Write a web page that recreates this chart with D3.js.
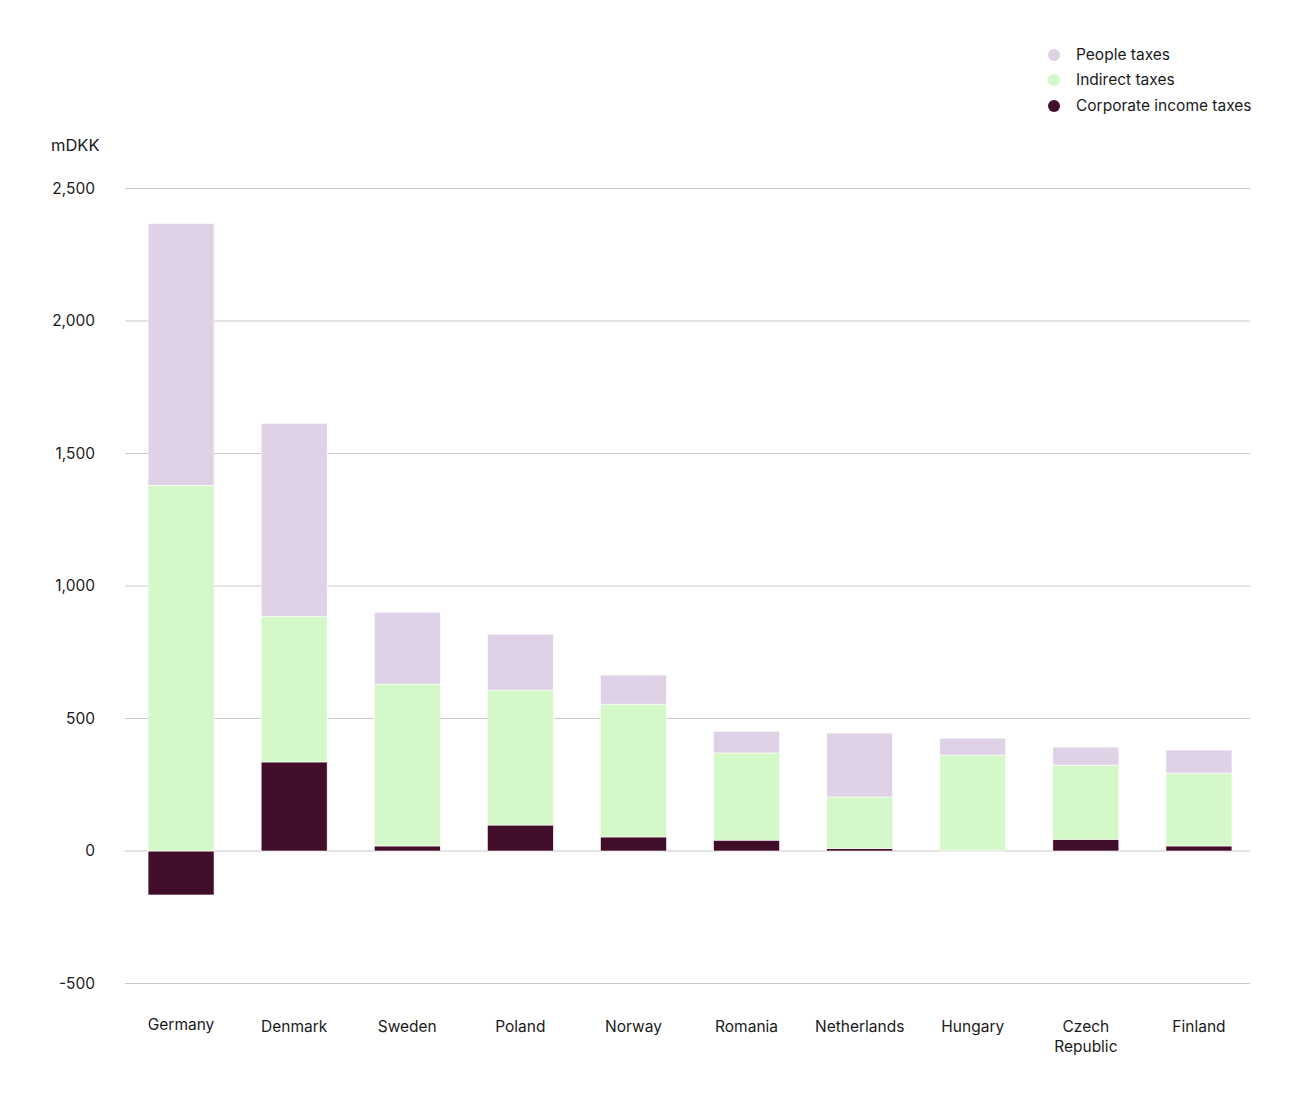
<!DOCTYPE html>
<html>
<head>
<meta charset="utf-8">
<script src="https://cdn.jsdelivr.net/npm/d3@7"></script>
<style>
  body { margin: 0; background: #fff; }
  svg text { font-family: Inter, "Noto Sans", sans-serif; fill: #1a1a1a; }
</style>
</head>
<body>
<svg id="chart" width="1301" height="1101"></svg>
<script>
var countries = ["Germany", "Denmark", "Sweden", "Poland", "Norway", "Romania", "Netherlands", "Hungary", "Czech Republic", "Finland"];
var corporate = [-166, 336, 19, 98, 53, 41, 9, 3, 44, 19];
var indirect = [1380, 550, 611, 509, 501, 329, 195, 359, 280, 275];
var people = [988, 728, 271, 211, 110, 82, 241, 64, 68, 87];
var yTicks = [-500, 0, 500, 1000, 1500, 2000, 2500];

var seriesNames = ["People taxes", "Indirect taxes", "Corporate income taxes"];
var colors = { "People taxes": "#e0d2e6", "Indirect taxes": "#d4f8c8", "Corporate income taxes": "#420d2b" };

var svg = d3.select("#chart"),
    margin = { top: 188.5, right: 51, bottom: 117.5, left: 125 },
    width = +svg.attr("width") - margin.left - margin.right,
    height = +svg.attr("height") - margin.top - margin.bottom;

var x = d3.scaleBand().domain(countries).range([124.5, 1255.5]).paddingInner(0.4164).paddingOuter(0.2082);
var y = d3.scaleLinear().domain([-500, 2500]).range([margin.top + height, margin.top]);

// gridlines
svg.append("g")
  .selectAll("line")
  .data(yTicks)
  .join("line")
    .attr("x1", margin.left)
    .attr("x2", margin.left + width)
    .attr("y1", function(d) { return y(d); })
    .attr("y2", function(d) { return y(d); })
    .attr("stroke", "#c8c8c8")
    .attr("stroke-width", 1);

// y tick labels
svg.append("g")
  .selectAll("text")
  .data(yTicks)
  .join("text")
    .attr("x", 95)
    .attr("y", function(d) { return y(d) + 1; })
    .attr("text-anchor", "end")
    .attr("dominant-baseline", "middle")
    .style("font-size", "15.5px")
    .text(function(d) { return d3.format(",")(d).replace("\u2212", "-"); });

svg.append("text")
  .attr("x", 51)
  .attr("y", 146)
  .attr("dominant-baseline", "middle")
  .style("font-size", "16.5px")
  .text("mDKK");

// stacked bars: corporate from 0, indirect above max(corp,0), people on top
var rows = countries.map(function(c, i) {
  var base = Math.max(corporate[i], 0);
  return [
    { key: "Corporate income taxes", c: c, y0: 0, y1: corporate[i] },
    { key: "Indirect taxes", c: c, y0: base, y1: base + indirect[i] },
    { key: "People taxes", c: c, y0: base + indirect[i], y1: base + indirect[i] + people[i] }
  ];
});

svg.append("g")
  .selectAll("g")
  .data(rows)
  .join("g")
  .selectAll("rect")
  .data(function(d) { return d; })
  .join("rect")
    .attr("x", function(d) { return x(d.c); })
    .attr("width", x.bandwidth())
    .attr("y", function(d) { return y(Math.max(d.y0, d.y1)); })
    .attr("height", function(d) { return Math.abs(y(d.y0) - y(d.y1)); })
    .attr("fill", function(d) { return colors[d.key]; })
    .attr("stroke", "#ffffff")
    .attr("stroke-width", 0.6);

// x labels
var xl = svg.append("g")
  .selectAll("text")
  .data(countries)
  .join("text")
    .attr("x", function(d) { return x(d) + x.bandwidth() / 2; })
    .attr("y", function(d) { return d === "Germany" ? 1026 : 1028; })
    .attr("text-anchor", "middle")
    .attr("dominant-baseline", "middle")
    .style("font-size", "15.5px");

xl.each(function(d) {
  var words = d.split(" ");
  var t = d3.select(this);
  words.forEach(function(w, i) {
    t.append("tspan")
      .attr("x", x(d) + x.bandwidth() / 2)
      .attr("dy", i === 0 ? 0 : 20)
      .text(w);
  });
});

// legend
var legend = svg.append("g")
  .selectAll("g")
  .data(seriesNames)
  .join("g")
    .attr("transform", function(d, i) { return "translate(1054," + [55, 80, 106][i] + ")"; });

legend.append("circle")
  .attr("r", 6)
  .attr("fill", function(d) { return colors[d]; });

legend.append("text")
  .attr("x", 22)
  .attr("y", 1)
  .attr("dominant-baseline", "middle")
  .style("font-size", "15.5px")
  .text(function(d) { return d; });
</script>
</body>
</html>
